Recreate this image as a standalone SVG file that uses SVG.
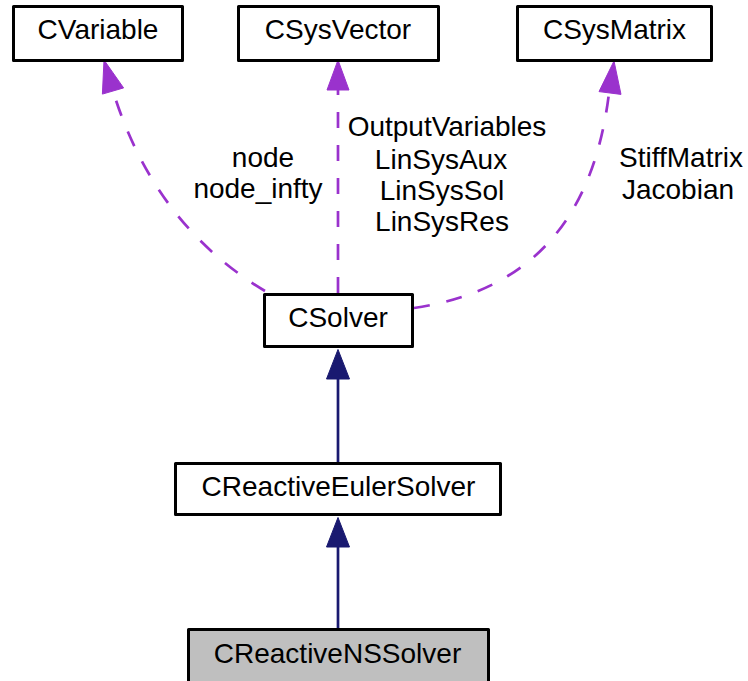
<svg xmlns="http://www.w3.org/2000/svg" width="748" height="681" viewBox="0 0 748 681">
<style>
.box{fill:#ffffff;stroke:#000000;stroke-width:3;stroke-linejoin:round}
.cur{fill:#bfbfbf}
.t{font-family:"Liberation Sans",Arial,Helvetica,sans-serif;font-size:28px;fill:#000000;text-anchor:middle}
.dash{fill:none;stroke:#9a32cd;stroke-width:2.7;stroke-dasharray:16,17}
.dhead{fill:#9a32cd;stroke:#9a32cd;stroke-width:1}
.solid{fill:none;stroke:#191970;stroke-width:2.7}
.shead{fill:#191970;stroke:#191970;stroke-width:1}
</style>
<rect width="748" height="681" fill="#ffffff"/>
<g id="edges">
  <g id="edge-cvariable">
    <path class="dash" d="M265,291 C205,255 145,195 113,91"/>
    <polygon class="dhead" points="104,60 123.6,87.9 102.4,94.1"/>
    <text class="t" x="263" y="167">node</text>
    <text class="t" x="258" y="198">node_infty</text>
  </g>
  <g id="edge-csysvector">
    <path class="dash" d="M338,293 L338,90"/>
    <polygon class="dhead" points="338,60 349,90 327,90"/>
    <text class="t" x="447" y="136">OutputVariables</text>
    <text class="t" x="441" y="169">LinSysAux</text>
    <text class="t" x="442" y="200">LinSysSol</text>
    <text class="t" x="442" y="231">LinSysRes</text>
  </g>
  <g id="edge-csysmatrix">
    <path class="dash" d="M414,308 C500,295 590,250 609,93"/>
    <polygon class="dhead" points="614,61 621,94.4 599,91.6"/>
    <text class="t" x="681" y="167">StiffMatrix</text>
    <text class="t" x="678" y="199">Jacobian</text>
  </g>
  <g id="edge-euler-solver">
    <path class="solid" d="M338,462 L338,379"/>
    <polygon class="shead" points="338,349.5 349.5,379 326.5,379"/>
  </g>
  <g id="edge-ns-euler">
    <path class="solid" d="M338,628 L338,547"/>
    <polygon class="shead" points="338,517.5 349.5,547 326.5,547"/>
  </g>
</g>
<g id="node-cvariable">
  <rect class="box" x="13.5" y="6.5" width="169" height="54"/>
  <text class="t" x="98" y="39">CVariable</text>
</g>
<g id="node-csysvector">
  <rect class="box" x="238.5" y="6.5" width="200" height="54"/>
  <text class="t" x="338" y="39">CSysVector</text>
</g>
<g id="node-csysmatrix">
  <rect class="box" x="517.5" y="6.5" width="194" height="54"/>
  <text class="t" x="614.5" y="39">CSysMatrix</text>
</g>
<g id="node-csolver">
  <rect class="box" x="264.5" y="294.5" width="148" height="52"/>
  <text class="t" x="338" y="327">CSolver</text>
</g>
<g id="node-creactiveeulersolver">
  <rect class="box" x="175.5" y="463.5" width="325" height="51"/>
  <text class="t" x="338.5" y="496">CReactiveEulerSolver</text>
</g>
<g id="node-creactivenssolver">
  <rect class="box cur" x="188.5" y="629.5" width="300" height="60"/>
  <text class="t" x="337.5" y="663">CReactiveNSSolver</text>
</g>
</svg>
